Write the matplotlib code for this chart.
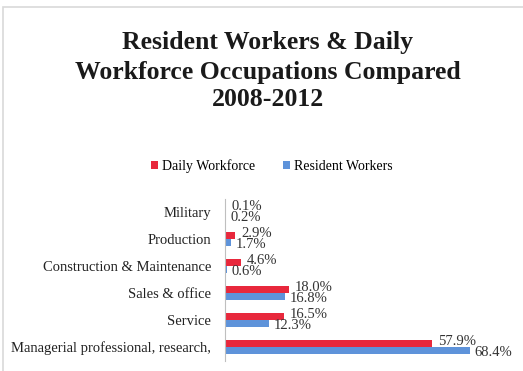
import matplotlib.pyplot as plt
from matplotlib.patches import Rectangle
import numpy as np

categories = ["Managerial professional, research,", "Service", "Sales & office",
              "Construction & Maintenance", "Production", "Military"]
daily = [57.9, 16.5, 18.0, 4.6, 2.9, 0.1]
resident = [68.4, 12.3, 16.8, 0.6, 1.7, 0.2]
daily_labels = ["57.9%", "16.5%", "18.0%", "4.6%", "2.9%", "0.1%"]
resident_labels = ["68.4%", "12.3%", "16.8%", "0.6%", "1.7%", "0.2%"]

W, H = 523, 371
fig = plt.figure(figsize=(W/100, H/100), dpi=100)
serif = ["Liberation Serif", "DejaVu Serif"]

# border frame
fig.patches.append(Rectangle((3/W, -0.1), 1.2, 1 - 7/H + 0.1, transform=fig.transFigure,
                             fill=False, edgecolor="#d9d9d9", linewidth=1.2))

for txt, py in [("Resident Workers & Daily", 42), ("Workforce Occupations Compared", 72),
                ("2008-2012", 100)]:
    fig.text(268/W, 1 - py/H, txt, ha="center", va="center",
             fontsize=18.5, fontweight="bold", family=serif, color="#1a1a1a")

left = 225 / W
right = (225 + 75 * 3.58) / W
ax = fig.add_axes([left, 1 - 360.5/H, right - left, 162/H])
y = np.arange(len(categories))
h = 0.26
red = "#e8283c"
blue = "#5e93da"
ax.barh(y + h/2, daily, height=h, color=red, label="Daily Workforce")
ax.barh(y - h/2, resident, height=h, color=blue, label="Resident Workers")

for i in range(len(categories)):
    ax.text(daily[i] + 1.6, y[i] + h/2 + 0.07, daily_labels[i], va="center", ha="left",
            fontsize=10.5, family=serif, color="#333333")
    ax.text(resident[i] + 1.2, y[i] - h/2 - 0.07, resident_labels[i], va="center", ha="left",
            fontsize=10.5, family=serif, color="#333333")

ax.set_xlim(0, 75)
ax.set_ylim(-0.5, len(categories) - 0.5)
ax.set_yticks(y)
ax.set_yticklabels(categories, family=serif, fontsize=10.5, color="#222222")
ax.tick_params(axis="y", length=0, pad=10)
ax.set_xticks([])
for s in ["top", "right", "bottom"]:
    ax.spines[s].set_visible(False)
ax.spines["left"].set_color("#bfbfbf")
ax.spines["left"].set_linewidth(0.8)

fig.legend(loc="center", bbox_to_anchor=(0.52, 1 - 166/H), ncol=2, frameon=False,
           prop={"family": serif, "size": 10}, handlelength=0.5, handleheight=0.5,
           handletextpad=0.3, columnspacing=2.0)

fig.savefig("out.png", dpi=100)
